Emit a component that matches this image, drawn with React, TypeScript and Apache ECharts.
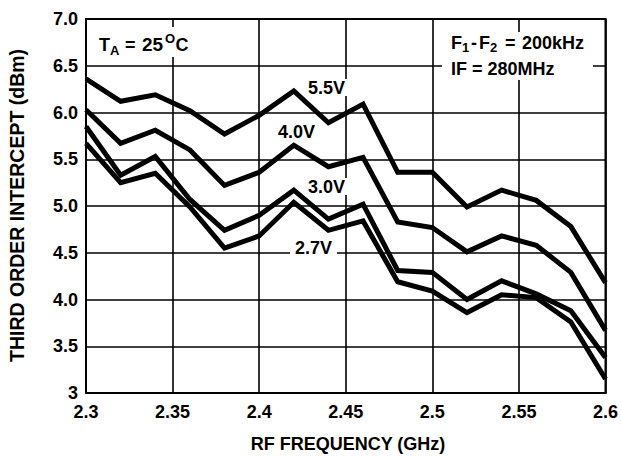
import React, { useEffect, useRef } from "react";
import * as echarts from "echarts";

const freqs = [2.3, 2.32, 2.34, 2.36, 2.38, 2.4, 2.42, 2.44, 2.46, 2.48, 2.5, 2.52, 2.54, 2.56, 2.58, 2.6];
const v55 = [6.36, 6.12, 6.19, 6.02, 5.77, 5.97, 6.23, 5.89, 6.09, 5.36, 5.36, 4.99, 5.17, 5.06, 4.78, 4.18];
const v40 = [6.03, 5.67, 5.81, 5.6, 5.22, 5.36, 5.65, 5.42, 5.52, 4.83, 4.77, 4.51, 4.68, 4.58, 4.29, 3.67];
const v30 = [5.85, 5.33, 5.53, 5.07, 4.74, 4.9, 5.17, 4.86, 5.02, 4.31, 4.29, 4.0, 4.2, 4.06, 3.88, 3.38];
const v27 = [5.67, 5.25, 5.35, 4.99, 4.55, 4.68, 5.04, 4.74, 4.84, 4.19, 4.09, 3.86, 4.05, 4.02, 3.76, 3.15];
const seriesNames = ["5.5V", "4.0V", "3.0V", "2.7V"];
const xTitle = "RF FREQUENCY (GHz)";
const yTitle = "THIRD ORDER INTERCEPT (dBm)";

const FONT = "'Liberation Sans', Arial, Helvetica, sans-serif";

function txt(text: string, x: number, y: number, size = 18, extra: any = {}) {
  return {
    type: "text",
    x,
    y,
    z: 5,
    style: {
      text,
      fill: "#000",
      font: `bold ${size}px ${FONT}`,
      align: "left",
      verticalAlign: "middle",
      ...extra,
    },
  };
}

function box(x: number, y: number, w: number, h: number) {
  return {
    type: "rect",
    z: 1,
    shape: { x, y, width: w, height: h },
    style: { fill: "#fff" },
  };
}

export default function App() {
  const ref = useRef<HTMLDivElement>(null);
  useEffect(() => {
    if (!ref.current) return;
    const chart = echarts.init(ref.current, undefined, { renderer: "svg" });
    const all = [v55, v40, v30, v27];
    chart.setOption({
      animation: false,
      backgroundColor: "#fff",
      grid: { left: 86, right: 10, top: 19, bottom: 63, show: true, borderColor: "#000", borderWidth: 2, z: 0 },
      xAxis: {
        type: "value",
        min: 2.3,
        max: 2.6,
        interval: 0.05,
        axisLine: { show: true, lineStyle: { color: "#000", width: 2 } },
        axisTick: { show: false },
        splitLine: { show: true, lineStyle: { color: "#000", width: 1.6 } },
        axisLabel: {
          color: "#000",
          fontWeight: "bold",
          fontSize: 18,
          fontFamily: FONT,
          margin: 10,
          formatter: (v: number) => String(Number(v.toFixed(2))),
        },
      },
      yAxis: {
        type: "value",
        min: 3,
        max: 7,
        interval: 0.5,
        axisLine: { show: true, lineStyle: { color: "#000", width: 2 } },
        axisTick: { show: false },
        splitLine: { show: true, lineStyle: { color: "#000", width: 1.6 } },
        axisLabel: {
          color: "#000",
          fontWeight: "bold",
          fontSize: 18,
          fontFamily: FONT,
          margin: 8,
          formatter: (v: number) => (Math.abs(v - 3) < 1e-9 ? "3" : v.toFixed(1)),
        },
      },
      series: all.map((vals, i) => ({
        name: seriesNames[i],
        type: "line",
        z: 3,
        data: freqs.map((f, j) => [f, vals[j]]),
        symbol: "none",
        lineStyle: { color: "#000", width: 5, join: "miter" },
      })),
      graphic: [
        // white boxes behind labels
        box(92, 27, 100, 30),
        box(442, 32, 151, 48),
        box(304, 79, 43, 17),
        box(274, 123, 44, 17),
        box(304, 178, 43, 17),
        box(290, 238, 47, 19),
        // T_A = 25°C
        txt("T", 99, 44.5),
        txt("A", 110, 50, 13),
        txt("=", 125, 44.5),
        txt("25", 142, 44.5, 19),
        txt("O", 165, 38.8, 13),
        txt("C", 175.5, 44.5),
        // F1-F2 = 200kHz
        txt("F", 451, 43),
        txt("1", 462, 47.5, 13),
        txt("-", 471, 43),
        txt("F", 479, 43),
        txt("2", 490, 47.5, 13),
        txt("=", 505, 43),
        txt("200kHz", 522, 43),
        txt("IF = 280MHz", 451, 69),
        // series labels
        txt(seriesNames[0], 308, 87.5),
        txt(seriesNames[1], 278, 131.5),
        txt(seriesNames[2], 308, 186.5),
        txt(seriesNames[3], 295, 247.5),
        // axis titles
        txt(xTitle, 348, 443.5, 18, { align: "center" }),
        {
          type: "text",
          x: 17,
          y: 205.5,
          rotation: Math.PI / 2,
          z: 5,
          style: {
            text: yTitle,
            fill: "#000",
            font: `bold 19.5px ${FONT}`,
            align: "center",
            verticalAlign: "middle",
          },
        },
      ],
    });
    return () => chart.dispose();
  }, []);
  return (
    <div
      ref={ref}
      style={{ position: "fixed", left: 0, top: 0, width: 621, height: 456, background: "#fff" }}
    />
  );
}
